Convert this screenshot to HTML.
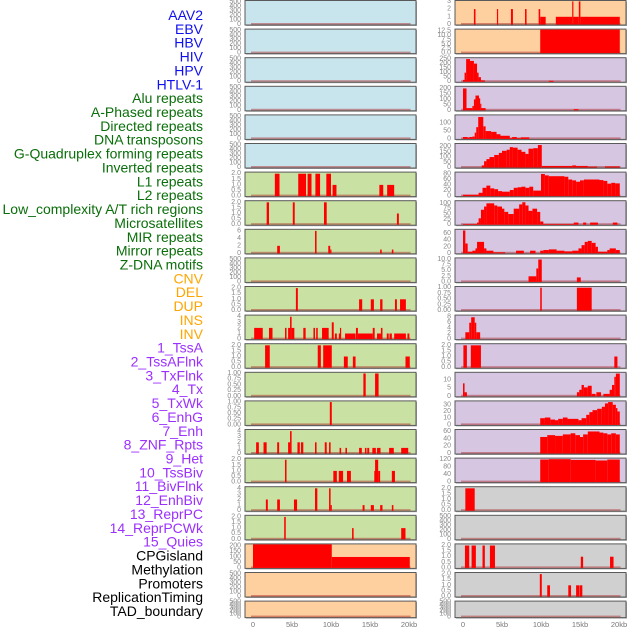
<!DOCTYPE html>
<html><head><meta charset="utf-8"><style>
body{margin:0;background:#fff;width:630px;height:630px;overflow:hidden}
svg{display:block}
</style></head><body>
<svg id="chart" width="630" height="630" xmlns="http://www.w3.org/2000/svg" font-family="Liberation Sans, sans-serif"></svg>
<script>
const labels=["AAV2","EBV","HBV","HIV","HPV","HTLV-1","Alu repeats","A-Phased repeats","Directed repeats","DNA transposons","G-Quadruplex forming repeats","Inverted repeats","L1 repeats","L2 repeats","Low_complexity A/T rich regions","Microsatellites","MIR repeats","Mirror repeats","Z-DNA motifs","CNV","DEL","DUP","INS","INV","1_TssA","2_TssAFlnk","3_TxFlnk","4_Tx","5_TxWk","6_EnhG","7_Enh","8_ZNF_Rpts","9_Het","10_TssBiv","11_BivFlnk","12_EnhBiv","13_ReprPC","14_ReprPCWk","15_Quies","CPGisland","Methylation","Promoters","ReplicationTiming","TAD_boundary"];
const labelGroups=[0,0,0,0,0,0,1,1,1,1,1,1,1,1,1,1,1,1,1,2,2,2,2,2,3,3,3,3,3,3,3,3,3,3,3,3,3,3,3,4,4,4,4,4];
const groupColors=["#1010ee","#0a6e0a","#ffa500","#9b30ff","#000000"];
const midBg=["b","b","b","b","b","b","g","g","g","g","g","g","g","g","g","g","g","g","g","o","o","o"];
const rightBg=["o","o","p","p","p","p","p","p","p","p","p","p","p","p","p","p","p","y","y","y","y","y"];
const T500=["0","100","200","300","400","500"], V500=[0,100,200,300,400,500];
const T2=["0.0","0.5","1.0","1.5","2.0"], V2=[0,0.5,1,1.5,2];
const T4=["0","1","2","3","4"], V4=[0,1,2,3,4];
const T1=["0.00","0.25","0.50","0.75","1.00"], V1=[0,0.25,0.5,0.75,1];
const midMax=[520,520,520,520,520,520,2.1,2.1,6.3,520,2.1,4.2,2.1,1.03,1.03,4.2,2.1,4.2,2.1,215,520,520];
const midTickVals=[V500,V500,V500,V500,V500,V500,V2,V2,[0,2,4,6],V500,V2,V4,V2,V1,V1,V4,V2,V4,V2,[0,50,100,150,200],V500,V500];
const midTickText=[T500,T500,T500,T500,T500,T500,T2,T2,["0","2","4","6"],T500,T2,T4,T2,T1,T1,T4,T2,T4,T2,["0","50","100","150","200"],T500,T500];
const midSegments=[[],[],[],[],[],[],
[[2.8,3.4,2],[5.8,6.8,2],[7.0,7.5,2],[8.0,8.6,2],[9.4,10.0,2],[10.2,10.7,1],[16.2,16.7,1],[17.2,18.1,1]],
[[1.75,2.05,2],[5.1,5.35,2],[9.1,9.45,2],[18.45,18.7,1]],
[[3.1,3.45,2],[7.95,8.15,6],[9.65,9.9,2],[9.9,10.0,1],[16.3,16.5,1],[17.8,18.0,1]],
[],
[[5.5,5.75,2],[13.6,14.0,1],[15.1,15.5,1],[16.3,16.6,1],[18.2,18.45,1],[18.85,19.6,1]],
[[0.15,1.25,2],[2.05,2.5,2],[4.1,4.3,2],[4.5,4.75,2],[4.75,4.95,4],[4.95,5.3,2],[6.45,6.75,2],[7.75,7.95,2],[8.1,8.3,2],[8.85,9.7,2],[10.1,10.35,3],[10.5,10.75,1],[11.0,11.15,1],[11.15,11.3,2],[11.8,13.15,1],[13.2,13.45,2],[13.45,15.35,1],[15.35,15.6,2],[15.9,16.4,1],[16.4,16.6,2],[17.15,17.4,1],[17.5,17.8,1],[18.1,19.6,1],[19.8,20.05,1]],
[[1.55,2.15,2],[8.3,8.7,2],[9.0,10.1,2],[11.65,12.15,1],[12.8,13.15,1],[19.55,20.1,1]],
[[14.15,14.45,1],[15.65,16.1,1]],
[[9.85,10.1,1]],
[[0.4,0.75,2],[1.35,1.75,2],[3.1,3.35,2],[4.5,4.75,2],[4.75,4.95,4],[5.7,6.0,2],[6.15,6.45,2],[7.95,8.15,2],[9.2,9.45,2],[9.75,9.95,2],[11.1,11.3,1],[11.85,12.05,1],[13.6,13.95,1],[14.35,14.55,1],[14.65,14.9,1],[15.3,15.75,1],[15.9,16.35,1],[17.45,18.05,1],[19.0,19.9,1]],
[[4.1,4.3,2],[10.3,10.75,1],[11.0,11.55,1],[12.05,12.55,1],[15.55,15.65,1],[15.65,16.05,2],[16.05,16.3,1],[17.8,18.2,1]],
[[1.65,1.9,2],[3.1,3.45,2],[5.25,5.65,2],[7.95,8.25,4],[9.75,9.95,4],[9.95,10.05,1],[14.05,14.3,1],[15.1,15.5,1],[16.3,16.6,1],[17.8,18.0,1]],
[[4.0,4.2,2],[12.7,12.9,1],[19.0,19.55,1]],
[[0,10.1,215],[10.1,20.1,100]],
[],[]];
const rightMax=[3.05,13.3,260,215,150,225,85,110,72,10.5,1.03,8.6,2.1,14.5,35,64,125,2.1,520,2.1,2.1,520];
const rightTickVals=[[0,1,2,3],[0,2.5,5,7.5,10,12.5],[0,50,100,150,200,250],[0,50,100,150,200],[0,50,100],[0,50,100,150,200],[0,20,40,60,80],[0,25,50,75,100],[0,20,40,60],[0,2.5,5,7.5,10],V1,[0,2,4,6,8],V2,[0,5,10],[0,10,20,30],[0,20,40,60],[0,40,80,120],V2,V500,V2,V2,V500];
const rightTickText=[["0","1","2","3"],["0.0","2.5","5.0","7.5","10.0","12.5"],["0","50","100","150","200","250"],["0","50","100","150","200"],["0","50","100"],["0","50","100","150","200"],["0","20","40","60","80"],["0","25","50","75","100"],["0","20","40","60"],["0.0","2.5","5.0","7.5","10.0"],T1,["0","2","4","6","8"],T2,["0","5","10"],["0","10","20","30"],["0","20","40","60"],["0","40","80","120"],T2,T500,T2,T2,T500];
const rightSegments=[
[[1.4,1.6,2],[4.35,4.5,2],[6.15,6.4,2],[7.95,8.15,2],[9.7,9.9,2],[9.9,10.6,1],[11.9,14.0,1],[14.0,14.15,3],[14.15,14.85,1],[14.85,15.05,3],[15.05,20.1,1]],
[[9.9,20.1,13.3]],
[[0.0,0.2,20],[0.2,0.4,100],[0.4,0.9,250],[0.9,1.4,230],[1.4,1.8,200],[1.8,2.0,100],[2.0,2.3,50],[2.3,2.8,15],[11.0,11.6,10]],
[[0,0.45,200],[0.45,1.2,20],[1.2,1.4,40],[1.4,1.6,100],[1.6,2.05,135],[2.05,2.2,110],[2.2,2.3,60],[2.3,2.9,20],[14.2,14.8,10]],
[[0,0.6,12],[0.6,0.8,8],[0.8,1.2,12],[1.2,1.5,15],[1.5,1.7,40],[1.7,1.95,75],[1.95,2.6,140],[2.6,2.9,80],[2.9,3.6,50],[3.6,4.3,45],[4.3,4.8,30],[4.8,6.0,20],[6.0,6.3,5],[6.3,6.9,12],[6.9,7.4,5],[7.4,8.5,10]],
[[2.4,2.7,20],[2.7,3.0,60],[3.0,3.4,80],[3.4,4.0,100],[4.0,4.6,120],[4.6,5.0,140],[5.0,5.6,160],[5.6,6.0,170],[6.0,6.4,195],[6.4,7.0,190],[7.0,7.5,170],[7.5,8.0,150],[8.0,8.4,130],[8.4,9.0,180],[9.0,9.6,185],[9.6,10.1,215],[10.1,14.0,15],[14.0,14.5,20],[14.5,16.0,15],[16.0,17.2,8],[18.2,20.1,10]],
[[0,2.0,5],[2.0,2.5,12],[2.5,3.0,30],[3.0,3.5,38],[3.5,4.0,28],[4.0,4.5,25],[4.5,5.0,18],[5.0,6.0,16],[6.0,6.5,22],[6.5,7.0,30],[7.0,7.5,32],[7.5,8.0,34],[8.0,8.5,30],[8.5,9.0,34],[9.0,10.0,20],[10.0,10.5,80],[10.5,11.0,75],[11.0,13.0,72],[13.0,13.5,70],[13.5,14.0,60],[14.0,14.5,57],[14.5,15.0,52],[15.0,15.5,57],[15.5,17.5,60],[17.5,18.0,58],[18.0,18.5,55],[18.5,19.0,45],[19.0,19.5,48],[19.5,20.1,46]],
[[0,1.8,3],[1.8,2.0,10],[2.0,2.3,30],[2.3,2.7,70],[2.7,3.0,85],[3.0,4.0,100],[4.0,4.4,90],[4.4,5.0,85],[5.0,5.3,75],[5.3,5.8,60],[5.8,6.5,50],[6.5,7.2,75],[7.2,7.6,95],[7.6,8.0,105],[8.0,8.4,90],[8.4,8.9,65],[8.9,9.5,75],[9.5,9.9,60],[9.9,10.3,15],[10.3,14.2,3],[14.2,14.8,10],[15.4,15.8,10],[16.3,17.3,10],[19.2,19.8,10]],
[[0,0.3,70],[0.3,0.6,30],[0.6,1.2,5],[1.2,1.6,8],[1.6,1.8,15],[1.8,2.7,35],[2.7,3.0,15],[3.0,3.9,8],[3.9,5.4,3],[6.8,7.8,8],[8.6,9.3,8],[9.9,10.3,8],[10.3,11,10],[11,12,12],[12,13,8],[13,14,6],[14,14.8,8],[14.8,15.2,15],[15.2,15.6,25],[15.6,16,35],[16,16.5,38],[16.5,17,32],[17,17.3,20],[17.3,18.5,5],[18.5,18.8,10],[18.8,19.6,15],[19.6,20.1,10]],
[[8.4,9.4,2.5],[9.4,9.65,6],[9.65,10.1,10],[14.6,15.1,2]],
[[9.9,10.1,1],[14.6,16.5,1]],
[[0.3,0.8,2.5],[0.8,1.05,6],[1.05,1.5,8],[1.5,1.7,6],[1.7,2.2,2.5]],
[[0.05,0.5,2],[1.0,2.3,2],[19.4,19.8,1]],
[[0,0.2,8],[0.2,0.5,2.5],[14.6,14.9,2.5],[14.9,15.2,4],[15.2,15.5,7],[15.5,16.0,5.5],[16.0,16.5,6.5],[16.5,17.0,1.5],[17.1,17.7,2.5],[18.0,18.8,1.5],[18.8,19.1,4],[19.1,19.4,7],[19.4,19.6,12],[19.6,20.1,14]],
[[9.9,10.5,10],[10.5,11.2,11],[11.2,11.8,8],[11.8,12.2,7],[12.2,12.8,9],[12.8,13.4,11],[13.4,14.8,9],[14.8,15.2,7],[15.2,15.8,10],[15.8,16.2,15],[16.2,16.6,19],[16.6,17.2,22],[17.2,17.8,24],[17.8,18.2,27],[18.2,18.6,32],[18.6,19.2,34],[19.2,19.6,30],[19.6,19.8,25],[19.8,20.1,20]],
[[9.9,10.8,45],[10.8,11.8,50],[11.8,12.8,48],[12.8,13.8,52],[13.8,14.4,55],[14.4,15.0,50],[15.0,15.4,45],[15.4,16.0,52],[16.0,17.5,60],[17.5,18.0,57],[18.0,18.5,55],[18.5,19.0,52],[19.0,19.6,55],[19.6,20.1,52]],
[[9.9,11,120],[11,13.8,122],[13.8,17.0,118],[17.0,18.5,115],[18.5,20.1,120]],
[[0.3,1.5,2]],
[],
[[0.25,0.8,2],[1.1,1.65,2],[2.5,2.8,2],[3.45,4.1,2],[15.1,15.4,1],[18.85,19.3,1]],
[[9.85,10.1,2],[10.8,11.15,1],[13.5,13.85,1],[14.5,14.9,1],[14.95,15.3,1]],
[]];
const xTickVals=[0,5,10,15,20];
const xTickText=["0","5kb","10kb","15kb","20kb"];

const NS="http://www.w3.org/2000/svg";
const svg=document.getElementById("chart");
const bgColors={b:"#c8e4ec",g:"#c9e1a3",o:"#fecf9f",p:"#d6c6e2",y:"#d0d0d0"};
function mk(tag,attrs,parent){const e=document.createElementNS(NS,tag);for(const k in attrs)e.setAttribute(k,attrs[k]);(parent||svg).appendChild(e);return e;}
function rowTop(i){return 0.5+28.6*i;}
function rowH(i){return i===21?16.5:24.5;}

labels.forEach((t,i)=>{
  const e=mk("text",{x:203,y:15+i*13.86,"text-anchor":"end","dominant-baseline":"central","font-size":"14",fill:groupColors[labelGroups[i]]});
  e.textContent=t;
  
  
});

function drawColumn(col,px0,bgs,maxs,tv,tt,segs){
  const xs=kb=>px0+8+kb*7.8;
  for(let i=0;i<22;i++){
    const top=rowTop(i),h=rowH(i),bot=top+h;
    const g=mk("g",{});
    
    
    mk("rect",{x:px0+1,y:top+1,width:171,height:h,fill:"#a8a8a8"},g);
    const bg=mk("rect",{x:px0,y:top,width:171,height:h,fill:bgColors[bgs[i]],stroke:"#5a5a5a","stroke-width":1},g);
    
    
    const ys=v=>bot-0.5-(Math.min(v,maxs[i])/maxs[i])*(h-1);
    tv[i].forEach((v,k)=>{
      const e=mk("text",{x:px0-4,y:ys(v),"text-anchor":"end","dominant-baseline":"central","font-size":"7",fill:"#888"},g);
      e.textContent=tt[i][k];
      
      
    });
    const base=mk("rect",{x:xs(0)-2,y:bot-2,width:xs(20.2)-xs(0)+2,height:1.6,fill:"rgba(170,30,30,0.45)"},g);
    
    
    segs[i].forEach(s=>{
      const y=ys(s[2]);
      const r=mk("rect",{x:xs(s[0]),y:y,width:Math.max(1.2,xs(s[1])-xs(s[0])),height:bot-0.5-y,fill:"#ff0000"},g);
      
      
    });
  }
  xTickVals.forEach((v,k)=>{
    const e=mk("text",{x:xs(v),y:627,"text-anchor":"middle","font-size":"7.5",fill:"#777"});
    e.textContent=xTickText[k];
    
    
  });
}
drawColumn("middle",245,midBg,midMax,midTickVals,midTickText,midSegments);
drawColumn("right",455,rightBg,rightMax,rightTickVals,rightTickText,rightSegments);
</script>
</body></html>
